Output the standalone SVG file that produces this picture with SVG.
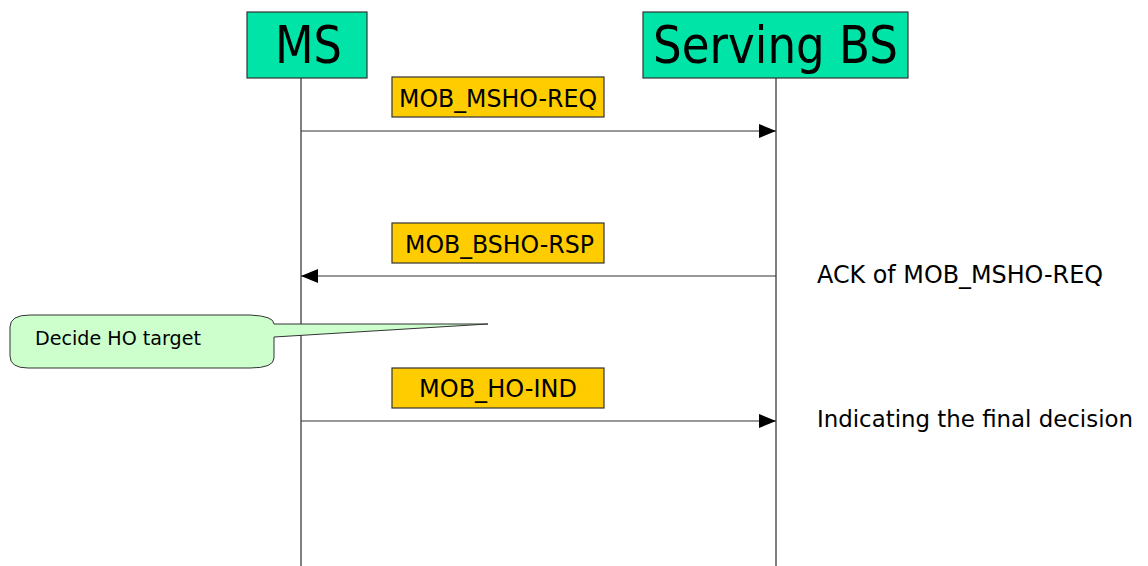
<svg xmlns="http://www.w3.org/2000/svg" width="1148" height="566" viewBox="0 0 1148 566">
<defs>
<style>
text{font-family:"DejaVu Sans","Liberation Sans",sans-serif;fill:#000}
.actor{fill:#00e4a8;stroke:#333;stroke-width:1.2}
.msg{fill:#ffcc00;stroke:#333;stroke-width:1.2}
.life{stroke:#555;stroke-width:1.5}
.arr{stroke:#333;stroke-width:1.2;fill:none}
.big{font-size:52px}
.lbl{font-size:25px}
.note{font-size:25px}
</style>
<marker id="ah" markerWidth="17" markerHeight="14" refX="17" refY="7" orient="auto" markerUnits="userSpaceOnUse">
<path d="M0,0 L17,7 L0,14 z" fill="#000"/>
</marker>
</defs>
<rect width="1148" height="566" fill="#fff"/>
<g id="lifelines">
<line class="life" x1="301" y1="78" x2="301" y2="566"/>
<line class="life" x1="776" y1="78" x2="776" y2="566"/>
</g>
<g id="ms">
<rect class="actor" x="247" y="12" width="120" height="66"/>
<text class="big" x="275" y="63" textLength="67" lengthAdjust="spacingAndGlyphs">MS</text>
</g>
<g id="serving-bs">
<rect class="actor" x="643" y="12" width="265" height="66"/>
<text class="big" x="653" y="63" textLength="245" lengthAdjust="spacingAndGlyphs">Serving BS</text>
</g>
<g id="connectors">
<line class="arr" x1="301" y1="131" x2="776" y2="131" marker-end="url(#ah)"/>
<line class="arr" x1="776" y1="276" x2="301" y2="276" marker-end="url(#ah)"/>
<line class="arr" x1="301" y1="421" x2="776" y2="421" marker-end="url(#ah)"/>
</g>
<g id="label-msho-req">
<rect class="msg" x="392" y="77" width="212" height="40"/>
<text class="lbl" x="399" y="107" textLength="198" lengthAdjust="spacingAndGlyphs">MOB_MSHO-REQ</text>
</g>
<g id="label-bsho-rsp">
<rect class="msg" x="392" y="223" width="212" height="40"/>
<text class="lbl" x="405" y="253" textLength="189" lengthAdjust="spacingAndGlyphs">MOB_BSHO-RSP</text>
</g>
<g id="label-ho-ind">
<rect class="msg" x="392" y="368" width="212" height="40"/>
<text class="lbl" x="419" y="397" textLength="158" lengthAdjust="spacingAndGlyphs">MOB_HO-IND</text>
</g>
<g id="note-ack">
<text class="note" x="817" y="283" textLength="286" lengthAdjust="spacingAndGlyphs">ACK of MOB_MSHO-REQ</text>
</g>
<g id="note-final">
<text x="817" y="427" font-size="23" textLength="316" lengthAdjust="spacingAndGlyphs">Indicating the final decision</text>
</g>
<g id="callout">
<path d="M30,315 L250,315 Q274,316 274,324 L488,324 L274,337 L274,358 Q274,368 250,368 L28,368 Q10,368 10,356 L10,327 Q10,315 30,315 Z" fill="#ccffcc" stroke="#333" stroke-width="1"/>
<text x="35" y="345" font-size="19" textLength="166" lengthAdjust="spacingAndGlyphs">Decide HO target</text>
</g>
</svg>
